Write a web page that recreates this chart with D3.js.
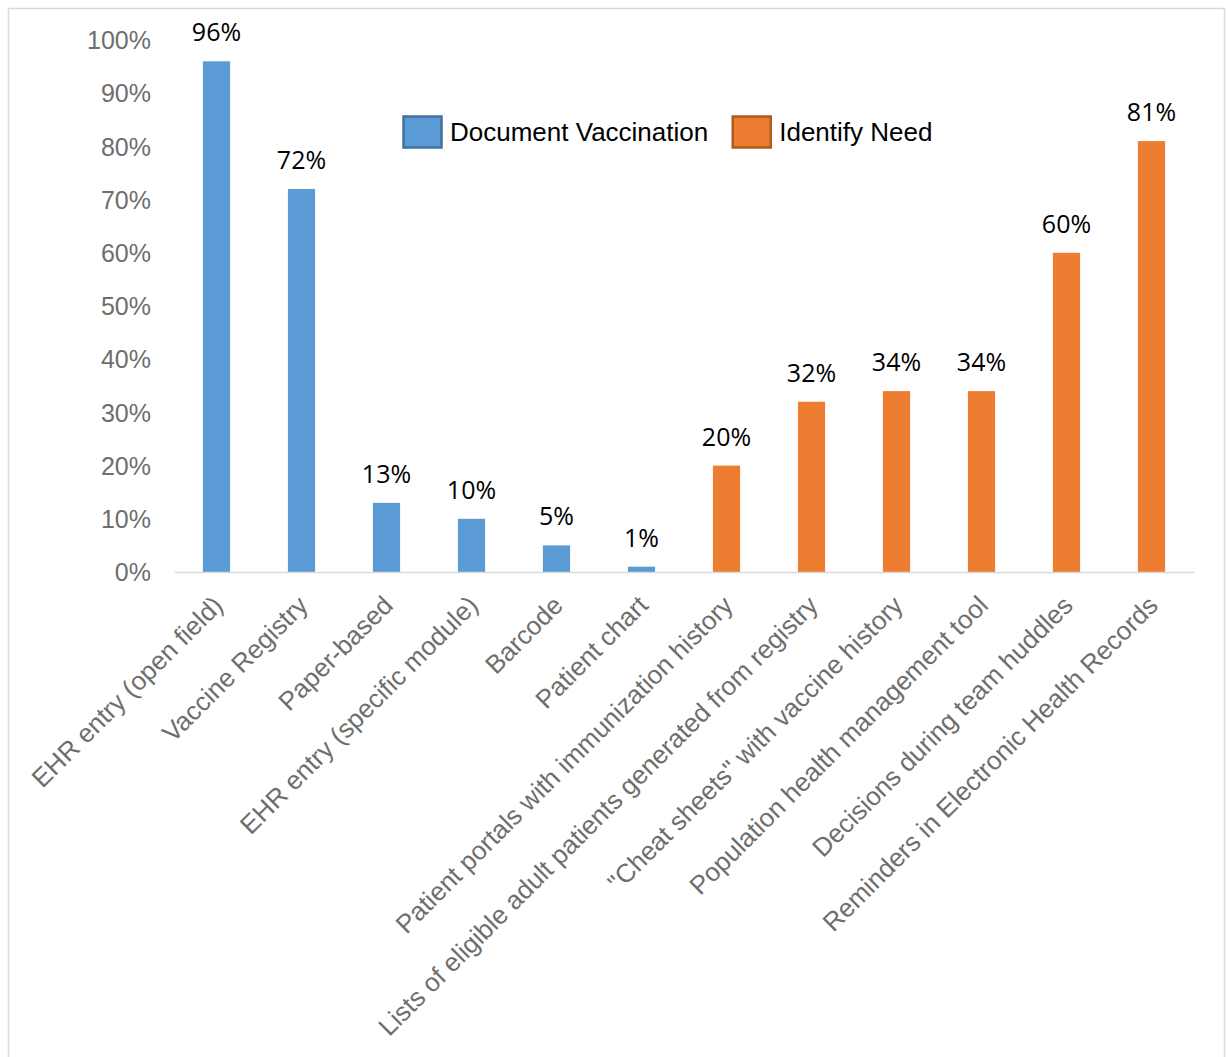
<!DOCTYPE html>
<html>
<head>
<meta charset="utf-8">
<script src="https://cdn.jsdelivr.net/npm/d3@7"></script>
<style>
  html, body { margin: 0; padding: 0; background: #fff; }
  svg { display: block; }
</style>
</head>
<body>
<script>
// ---- Data ----
const categories = [
  "EHR entry (open field)",
  "Vaccine Registry",
  "Paper-based",
  "EHR entry (specific module)",
  "Barcode",
  "Patient chart",
  "Patient portals with immunization history",
  "Lists of eligible adult patients generated from registry",
  "\"Cheat sheets\" with vaccine history",
  "Population health management tool",
  "Decisions during team huddles",
  "Reminders in Electronic Health Records"
];
const values = [0.96, 0.72, 0.13, 0.10, 0.05, 0.01, 0.20, 0.32, 0.34, 0.34, 0.60, 0.81];
const groups = ["Document Vaccination", "Document Vaccination", "Document Vaccination",
  "Document Vaccination", "Document Vaccination", "Document Vaccination",
  "Identify Need", "Identify Need", "Identify Need", "Identify Need", "Identify Need", "Identify Need"];
const seriesNames = ["Document Vaccination", "Identify Need"];
const seriesColors = ["#5B9BD5", "#ED7D31"];
const seriesStrokes = ["#41719C", "#AE5A21"];
const yTicks = [0, 0.1, 0.2, 0.3, 0.4, 0.5, 0.6, 0.7, 0.8, 0.9, 1.0];

// ---- Layout ----
const W = 1228, H = 1057;
const svg = d3.select("body").append("svg").attr("width", W).attr("height", H);

svg.append("rect")
  .attr("x", 8.5).attr("y", 8.5).attr("width", 1216).attr("height", 1100)
  .attr("fill", "#fff").attr("stroke", "#d9d9d9").attr("stroke-width", 1.5);

const x = d3.scaleBand().domain(categories).range([174, 1194])
  .paddingInner(0.68).paddingOuter(0.34);
const y = d3.scaleLinear().domain([0, 1]).range([572, 40]);
const color = d3.scaleOrdinal().domain(seriesNames).range(seriesColors);
const stroke = d3.scaleOrdinal().domain(seriesNames).range(seriesStrokes);

// Y axis (no line, no ticks)
const yAxis = svg.append("g")
  .attr("transform", "translate(174,0)")
  .call(d3.axisLeft(y).tickValues(yTicks).tickFormat(d3.format(".0%")).tickSize(0).tickPadding(23));
yAxis.select(".domain").remove();
yAxis.selectAll("text")
  .attr("font-family", "'Liberation Sans', Arial, sans-serif")
  .attr("font-size", 25).attr("fill", "#6e6e6e").attr("dy", "0.35em");

// Bars
svg.append("g").selectAll("rect").data(categories).join("rect")
  .attr("x", d => x(d))
  .attr("width", x.bandwidth())
  .attr("y", (d, i) => y(values[i]))
  .attr("height", (d, i) => y(0) - y(values[i]))
  .attr("fill", (d, i) => color(groups[i]));

// X axis line
const xAxis = svg.append("g")
  .attr("transform", "translate(0,572)")
  .call(d3.axisBottom(x).tickSize(0).tickPadding(0));
xAxis.select(".domain").attr("stroke", "#d9d9d9").attr("stroke-width", 1.5);
xAxis.selectAll(".tick text")
  .attr("font-family", "'Liberation Sans', Arial, sans-serif")
  .attr("font-size", 26).attr("fill", "#6e6e6e")
  .attr("text-anchor", "end")
  .attr("dy", 0).attr("y", 0)
  .attr("transform", "translate(8,35) rotate(-45)");

// Data labels
svg.append("g").selectAll("text").data(categories).join("text")
  .attr("x", d => x(d) + x.bandwidth() / 2)
  .attr("y", (d, i) => y(values[i]) - 20)
  .attr("text-anchor", "middle")
  .attr("font-family", "'Open Sans', 'Noto Sans', sans-serif")
  .attr("font-size", 25).attr("fill", "#000")
  .text((d, i) => d3.format(".0%")(values[i]));

// Legend
const legend = svg.append("g").attr("transform", "translate(403,116)");
let lx = 0;
seriesNames.forEach((s, i) => {
  const g = legend.append("g").attr("transform", `translate(${lx},0)`);
  g.append("rect").attr("x", 0.5).attr("y", 0.5).attr("width", 38).attr("height", 31)
    .attr("fill", color(s)).attr("stroke", stroke(s)).attr("stroke-width", 2.5);
  const t = g.append("text").attr("x", 47).attr("y", 24.5)
    .attr("font-family", "'Liberation Sans', Arial, sans-serif")
    .attr("font-size", 26).attr("fill", "#000").text(s);
  lx += 47 + t.node().getComputedTextLength() + 24;
});
</script>
</body>
</html>
